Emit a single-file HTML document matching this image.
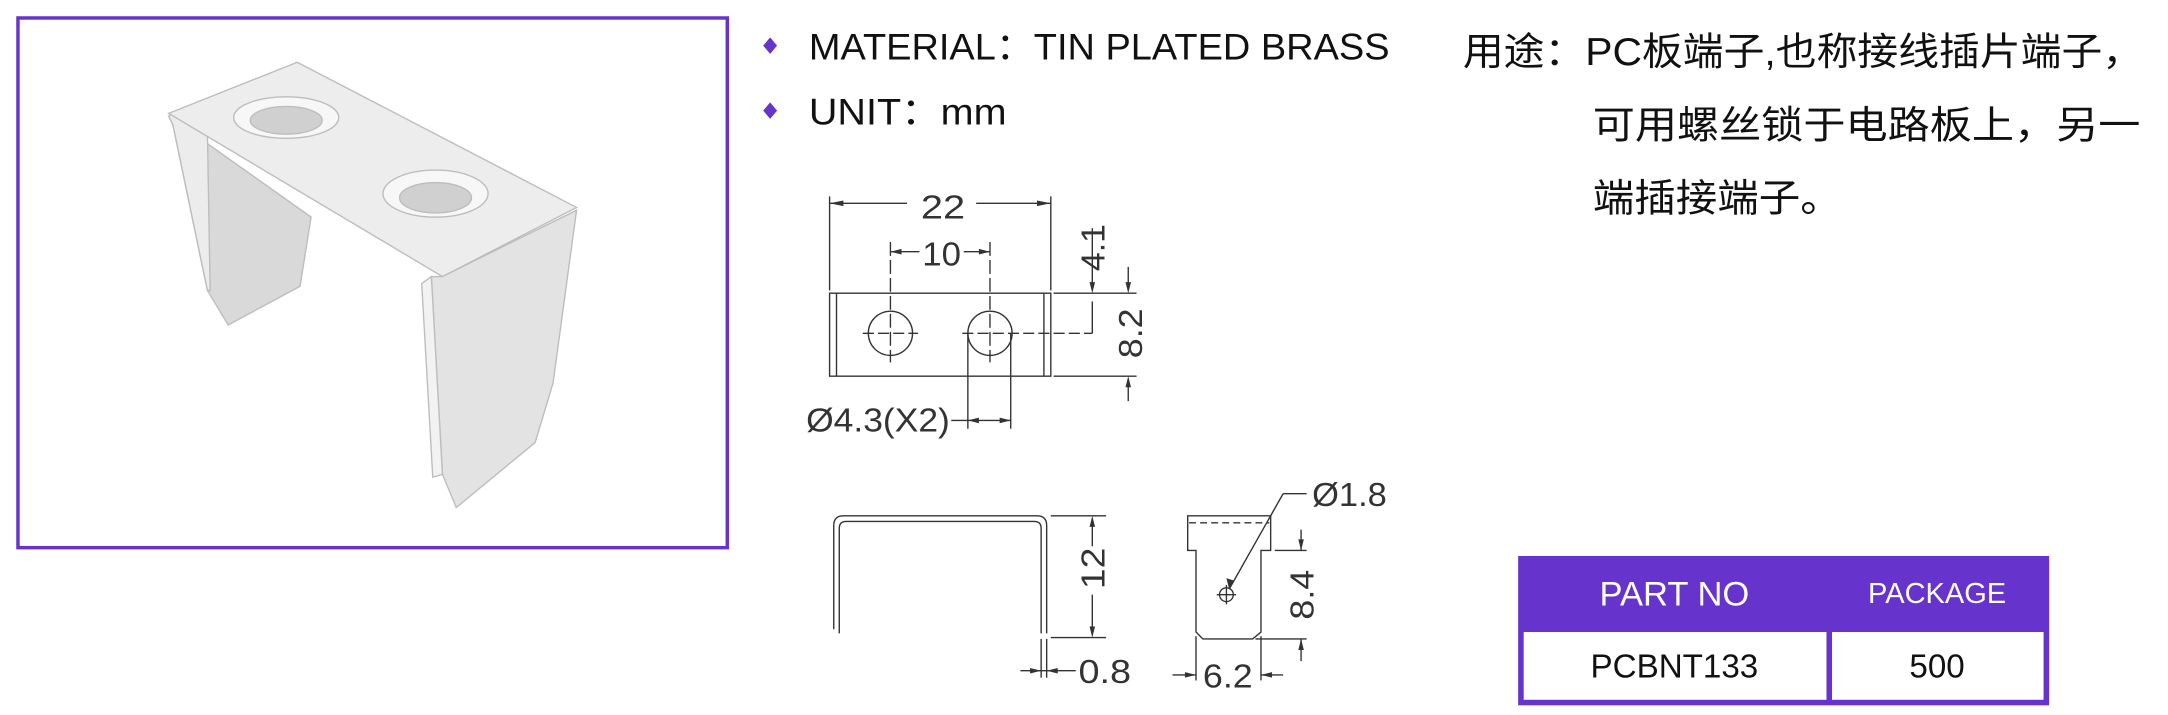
<!DOCTYPE html>
<html><head><meta charset="utf-8"><style>
html,body{margin:0;padding:0;background:#fff;}
svg{display:block;}
text{font-family:"Liberation Sans","Noto Sans CJK SC",sans-serif;}
</style></head><body>
<svg width="2168" height="715" viewBox="0 0 1568 517" preserveAspectRatio="none" xmlns="http://www.w3.org/2000/svg">
<rect x="0" y="0" width="1568" height="517" fill="#fff"/>
<!-- photo frame -->
<rect x="13" y="13" width="513" height="383" fill="#fff" stroke="#6633cc" stroke-width="2.5"/>
<!-- bracket -->
<g stroke="#bdbdbd" stroke-width="1">
<polygon points="125,90 150,210 165,235 217,207 225,157 122,84" fill="#d9d9d9"/>
<polygon points="122,84 128,80 150,95 152,210 150,210 125,90" fill="#ececec"/>
<polygon points="122,82 215,45 417,150 320,200" fill="#ededed"/>
<polygon points="312,200 320,343 330,367 387,320 400,277 417,152 320,200" fill="#e3e3e3"/>
<polygon points="305,205 312,200 320,343 313,345" fill="#f2f2f2"/>
<ellipse cx="207" cy="85" rx="38" ry="15" fill="#f7f7f7"/>
<ellipse cx="207" cy="87" rx="26" ry="10" fill="#d0d0d0"/>
<ellipse cx="315" cy="140" rx="38" ry="17" fill="#f7f7f7"/>
<ellipse cx="315" cy="143" rx="26" ry="11" fill="#d0d0d0"/>
</g>
<!-- bullets -->
<polygon points="557,27 562,33 557,39 552,33" fill="#6633cc"/>
<polygon points="557,74 562,80 557,86 552,80" fill="#6633cc"/>
<text x="585" y="43" font-size="27" fill="#111" textLength="420" lengthAdjust="spacingAndGlyphs">MATERIAL：TIN PLATED BRASS</text>
<text x="585" y="90" font-size="27" fill="#111" textLength="143" lengthAdjust="spacingAndGlyphs">UNIT：mm</text>
<!-- Chinese -->
<text x="1058" y="47" font-size="28" fill="#111" textLength="492" lengthAdjust="spacingAndGlyphs">用途：PC板端子,也称接线插片端子，</text>
<text x="1152" y="100" font-size="28" fill="#111" textLength="396" lengthAdjust="spacingAndGlyphs">可用螺丝锁于电路板上，另一</text>
<text x="1152" y="153" font-size="28" fill="#111" textLength="180" lengthAdjust="spacingAndGlyphs">端插接端子。</text>
<!-- drawing top view -->
<g stroke="#333" stroke-width="1" fill="none">
<rect x="600" y="212" width="160" height="60"/>
<line x1="605" y1="212" x2="605" y2="272"/><line x1="755" y1="212" x2="755" y2="272"/>
<circle cx="644" cy="241" r="16"/><circle cx="716" cy="241" r="16"/>
<line x1="624" y1="241" x2="664" y2="241" stroke-dasharray="8,3"/>
<line x1="696" y1="241" x2="790" y2="241" stroke-dasharray="8,3"/>
<line x1="644" y1="175" x2="644" y2="262" stroke-dasharray="10,3"/>
<line x1="716" y1="175" x2="716" y2="262" stroke-dasharray="10,3"/>
<line x1="600" y1="142" x2="600" y2="210"/><line x1="760" y1="142" x2="760" y2="210"/>
<line x1="600" y1="147" x2="656" y2="147"/><line x1="706" y1="147" x2="760" y2="147"/>
<line x1="644" y1="182" x2="665" y2="182"/><line x1="697" y1="182" x2="716" y2="182"/>
<line x1="700" y1="241" x2="700" y2="310"/><line x1="731" y1="241" x2="731" y2="310"/>
<line x1="688" y1="304" x2="731" y2="304"/>
<line x1="762" y1="212" x2="822" y2="212"/><line x1="762" y1="272" x2="822" y2="272"/>
<line x1="790" y1="165" x2="790" y2="205"/><line x1="790" y1="218" x2="790" y2="241"/>
<line x1="816" y1="193" x2="816" y2="210"/><line x1="816" y1="275" x2="816" y2="290"/>
<!-- U view -->
<path d="M603,455 L603,380 Q603,373 610,373 L750,373 Q757,373 757,380 L757,458 M607,458 L607,382 Q607,377 612,377 L748,377 Q753,377 753,382 L753,458"/>
<line x1="760" y1="373" x2="800" y2="373"/><line x1="760" y1="461" x2="800" y2="461"/>
<line x1="790" y1="377" x2="790" y2="395"/><line x1="790" y1="430" x2="790" y2="458"/>
<line x1="753" y1="462" x2="753" y2="490"/><line x1="757" y1="462" x2="757" y2="490"/>
<line x1="738" y1="485" x2="778" y2="485"/>
<!-- side view -->
<path d="M859,373 L919,373 L919,398 L912,398 L912,457 L906,462 L870,462 L865,457 L865,398 L859,398 Z"/>
<line x1="860" y1="378" x2="918" y2="378" stroke-dasharray="5,3"/>
<circle cx="887" cy="430" r="5"/>
<line x1="880" y1="430" x2="894" y2="430"/><line x1="887" y1="423" x2="887" y2="437"/>
<line x1="889" y1="426" x2="928" y2="357"/><line x1="928" y1="357" x2="945" y2="357"/>
<line x1="922" y1="398" x2="945" y2="398"/><line x1="941" y1="383" x2="941" y2="398"/>
<line x1="908" y1="462" x2="945" y2="462"/><line x1="941" y1="462" x2="941" y2="478"/>
<line x1="865" y1="460" x2="865" y2="492"/><line x1="912" y1="460" x2="912" y2="492"/>
<line x1="848" y1="488" x2="865" y2="488"/><line x1="912" y1="488" x2="928" y2="488"/>
</g>
<g fill="#333">
<polygon points="600,147 610,145 610,149"/><polygon points="760,147 750,145 750,149"/>
<polygon points="644,182 652,180 652,184"/><polygon points="716,182 708,180 708,184"/>
<polygon points="700,304 708,302 708,306"/><polygon points="731,304 723,302 723,306"/>
<polygon points="790,212 788,204 792,204"/><polygon points="816,212 814,204 818,204"/><polygon points="816,272 814,280 818,280"/>
<polygon points="790,373 788,381 792,381"/><polygon points="790,461 788,453 792,453"/>
<polygon points="753,485 745,483 745,487"/><polygon points="757,485 765,483 765,487"/>
<polygon points="941,398 939,390 943,390"/><polygon points="941,462 939,470 943,470"/>
<polygon points="865,488 857,486 857,490"/><polygon points="912,488 920,486 920,490"/>
<polygon points="889,426 887,418 893,420"/>
</g>
<g fill="#333" font-size="24">
<text x="666" y="158" textLength="32" lengthAdjust="spacingAndGlyphs">22</text>
<text x="667" y="192" textLength="28" lengthAdjust="spacingAndGlyphs">10</text>
<text x="583" y="312" textLength="104" lengthAdjust="spacingAndGlyphs">Ø4.3(X2)</text>
<text transform="translate(799,196) rotate(-90)" textLength="34" lengthAdjust="spacingAndGlyphs">4.1</text>
<text transform="translate(826,259) rotate(-90)" textLength="36" lengthAdjust="spacingAndGlyphs">8.2</text>
<text transform="translate(799,426) rotate(-90)" textLength="30" lengthAdjust="spacingAndGlyphs">12</text>
<text x="780" y="494" textLength="38" lengthAdjust="spacingAndGlyphs">0.8</text>
<text x="949" y="366" textLength="54" lengthAdjust="spacingAndGlyphs">Ø1.8</text>
<text transform="translate(950,448) rotate(-90)" textLength="36" lengthAdjust="spacingAndGlyphs">8.4</text>
<text x="870" y="497" textLength="36" lengthAdjust="spacingAndGlyphs">6.2</text>
</g>
<!-- table -->
<rect x="1098" y="402" width="384" height="108" fill="#6633cc"/>
<rect x="1102" y="457" width="219" height="49" fill="#fff"/>
<rect x="1325" y="457" width="153" height="49" fill="#fff"/>
<text x="1211" y="438" font-size="25" fill="#fff" text-anchor="middle">PART NO</text>
<text x="1401" y="436" font-size="21" fill="#fff" text-anchor="middle">PACKAGE</text>
<text x="1211" y="490" font-size="24" fill="#111" text-anchor="middle">PCBNT133</text>
<text x="1401" y="490" font-size="24" fill="#111" text-anchor="middle">500</text>
</svg>
</body></html>
